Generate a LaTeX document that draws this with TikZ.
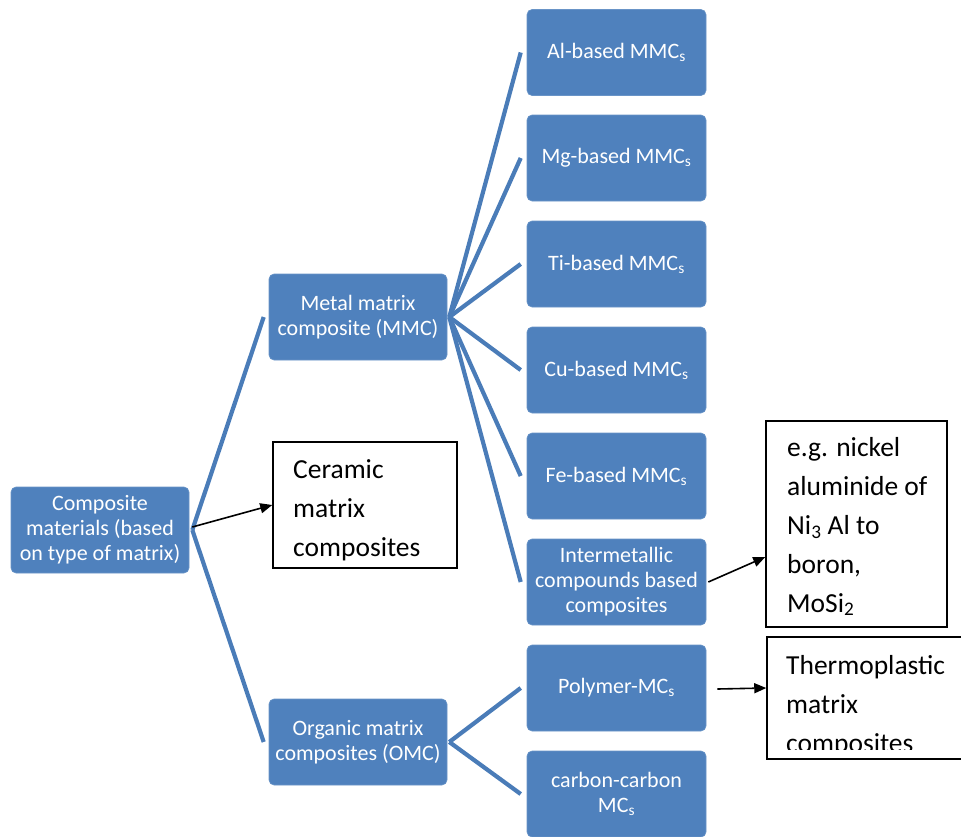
\documentclass[tikz,border=0pt]{standalone}
\usepackage{fontspec}
\setmainfont{Carlito}
\usetikzlibrary{arrows.meta,calc}
\definecolor{boxblue}{HTML}{4F81BD}
\definecolor{lineblue}{HTML}{4A7CB8}
\begin{document}
\begin{tikzpicture}[x=1pt,y=-1pt,
  bluebox/.style={fill=boxblue, draw=boxblue!85!white, line width=0.6pt, rounded corners=5pt,
    inner sep=0pt, minimum height=86pt, text=white, align=center,
    font=\fontsize{22}{25}\selectfont},
  midbox/.style={bluebox, minimum width=178pt},
  rightbox/.style={bluebox, minimum width=179pt},
  whitebox/.style={draw=black, line width=1.5pt, fill=white, inner sep=0pt},
  bigtxt/.style={anchor=base west, align=left, inner sep=0pt,
    font=\fontsize{27.5}{38.8}\selectfont},
  conn/.style={draw=lineblue, line width=4.2pt},
  arr/.style={draw=black, line width=1.6pt, -{Triangle[length=12pt,width=10pt]}}
]
\useasboundingbox (0,0) rectangle (961,836);

% white boxes
\node[whitebox, minimum width=184pt, minimum height=126pt] (cer) at (365,505) {};
\node[bigtxt] (certxt) at (293,556) {Ceramic\\matrix\\composites};

\node[whitebox, minimum width=181pt, minimum height=206pt] (eg) at (856.5,524) {};
\node[bigtxt] (egtxt) at (787,612) {e.g. nickel\\aluminide of\\Ni\textsubscript{3} Al to\\boron,\\MoSi\textsubscript{2}};

\node[whitebox, minimum width=210pt, minimum height=122pt] (thermo) at (872,698) {};
\begin{scope}
\clip (768,639) rectangle (960,749.5);
\node[bigtxt] (thermotxt) at (786,752) {Thermoplastic\\matrix\\composites};
\end{scope}

% blue boxes
\node[midbox] (comp) at (100,530) {Composite\\materials (based\\on type of matrix)};
\node[midbox] (mmc) at (358,317) {Metal matrix\\composite (MMC)};
\node[midbox] (omc) at (358,742) {Organic matrix\\composites (OMC)};

\node[rightbox] (al) at (616.5,52.5) {Al-based MMC\textsubscript{s}};
\node[rightbox] (mg) at (616.5,158) {Mg-based MMC\textsubscript{s}};
\node[rightbox] (ti) at (616.5,264) {Ti-based MMC\textsubscript{s}};
\node[rightbox] (cu) at (616.5,370) {Cu-based MMC\textsubscript{s}};
\node[rightbox] (fe) at (616.5,476) {Fe-based MMC\textsubscript{s}};
\node[rightbox] (inter) at (616.5,582) {Intermetallic\\compounds based\\composites};
\node[rightbox] (poly) at (616.5,688) {Polymer-MC\textsubscript{s}};
\node[rightbox] (cc) at (616.5,794) {carbon-carbon\\MC\textsubscript{s}};

% blue connectors
\draw[conn] ([xshift=3pt]comp.east) -- ([xshift=-5pt]mmc.west);
\draw[conn] ([xshift=3pt]comp.east) -- ([xshift=-5pt]omc.west);
\foreach \t in {al,mg,ti,cu,fe,inter}
  \draw[conn] ([xshift=2pt]mmc.east) -- ([xshift=-6pt]\t.west);
\foreach \t in {poly,cc}
  \draw[conn] ([xshift=2pt]omc.east) -- ([xshift=-6pt]\t.west);

% black arrows
\draw[arr] ([xshift=3pt,yshift=3pt]comp.east) -- (cer.west);
\draw[arr] ([xshift=2pt]inter.east) -- ([yshift=-33pt]eg.west);
\draw[arr] ([xshift=11pt,yshift=-1pt]poly.east) -- ([yshift=10pt]thermo.west);
\end{tikzpicture}
\end{document}
